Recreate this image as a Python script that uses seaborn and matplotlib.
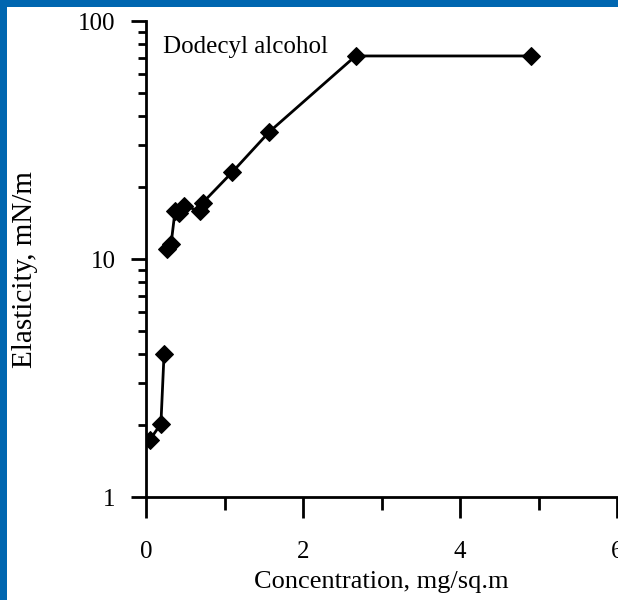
import matplotlib
matplotlib.use("Agg")
import matplotlib.pyplot as plt
from matplotlib.patches import Rectangle
from matplotlib.ticker import FixedLocator, LogLocator, NullFormatter, FixedFormatter
import numpy as np
import pandas as pd
import seaborn as sns

# Surface elasticity of dodecyl alcohol vs. concentration
low_conc = [0.05, 0.19, 0.23]
low_elast = [1.74, 2.03, 3.99]
high_conc = [0.27, 0.32, 0.37, 0.42, 0.49, 0.69, 0.72, 1.10, 1.57, 2.67, 4.91]
high_elast = [11.0, 11.6, 15.9, 15.6, 16.7, 15.9, 17.2, 23.2, 34.2, 71.3, 71.3]

x_ticks = [0, 2, 4, 6]
y_ticks = [1, 10, 100]
y_tick_labels = ["1", "10", "100"]

df = pd.DataFrame({
    "conc": low_conc + high_conc,
    "elast": low_elast + high_elast,
    "segment": ["low"] * len(low_conc) + ["high"] * len(high_conc),
})

sns.set_theme(style="white")
plt.rcParams["font.family"] = ["Liberation Serif", "DejaVu Serif"]

W, H = 618, 600
fig = plt.figure(figsize=(W / 100, H / 100), dpi=100)
fig.patch.set_facecolor("#0066b0")
fig.add_artist(Rectangle((7 / W, 0), 1, 1 - 7 / H, transform=fig.transFigure,
                         facecolor="white", edgecolor="none", zorder=0))

left, right = 146 / W, 617 / W
bottom, top = (H - 497) / H, (H - 21) / H
ax = fig.add_axes([left, bottom, right - left, top - bottom])
ax.set_facecolor("none")

sns.lineplot(data=df, x="conc", y="elast", units="segment", estimator=None,
             color="black", linewidth=2.0, marker="D", markersize=9,
             markeredgecolor="black", markerfacecolor="black", ax=ax)

ax.set_yscale("log")
ax.set_xlim(0, 6)
ax.set_ylim(1, 100)

ax.xaxis.set_major_locator(FixedLocator(x_ticks))
ax.xaxis.set_minor_locator(FixedLocator([1, 3, 5]))
ax.yaxis.set_major_locator(FixedLocator(y_ticks))
ax.yaxis.set_major_formatter(FixedFormatter(y_tick_labels))
ax.yaxis.set_minor_locator(LogLocator(base=10, subs=np.arange(2, 10)))
ax.yaxis.set_minor_formatter(NullFormatter())

for side in ["top", "right"]:
    ax.spines[side].set_visible(False)
for side in ["left", "bottom"]:
    ax.spines[side].set_linewidth(2)
    ax.spines[side].set_color("black")

ax.tick_params(axis="y", which="major", direction="out", length=11, width=2,
               labelsize=18, pad=11, colors="black", left=True)
ax.tick_params(axis="y", which="minor", direction="out", length=6, width=2,
               left=True, colors="black")
ax.tick_params(axis="x", which="major", direction="out", length=15, width=2,
               labelsize=18, pad=17, colors="black", bottom=True)
ax.tick_params(axis="x", which="minor", direction="out", length=9, width=2,
               bottom=True, colors="black")

ax.set_xlabel("Concentration, mg/sq.m", fontsize=19, color="black")
ax.set_ylabel("Elasticity, mN/m", fontsize=21, color="black")
ax.xaxis.set_label_coords(0.5, -0.156)
ax.yaxis.set_label_coords(-0.229, 0.477)

ax.text(0.036, 0.933, "Dodecyl alcohol", transform=ax.transAxes,
        fontsize=18, va="baseline", ha="left", color="black")

if ax.get_legend() is not None:
    ax.get_legend().remove()

fig.savefig("out.png", dpi=100)
